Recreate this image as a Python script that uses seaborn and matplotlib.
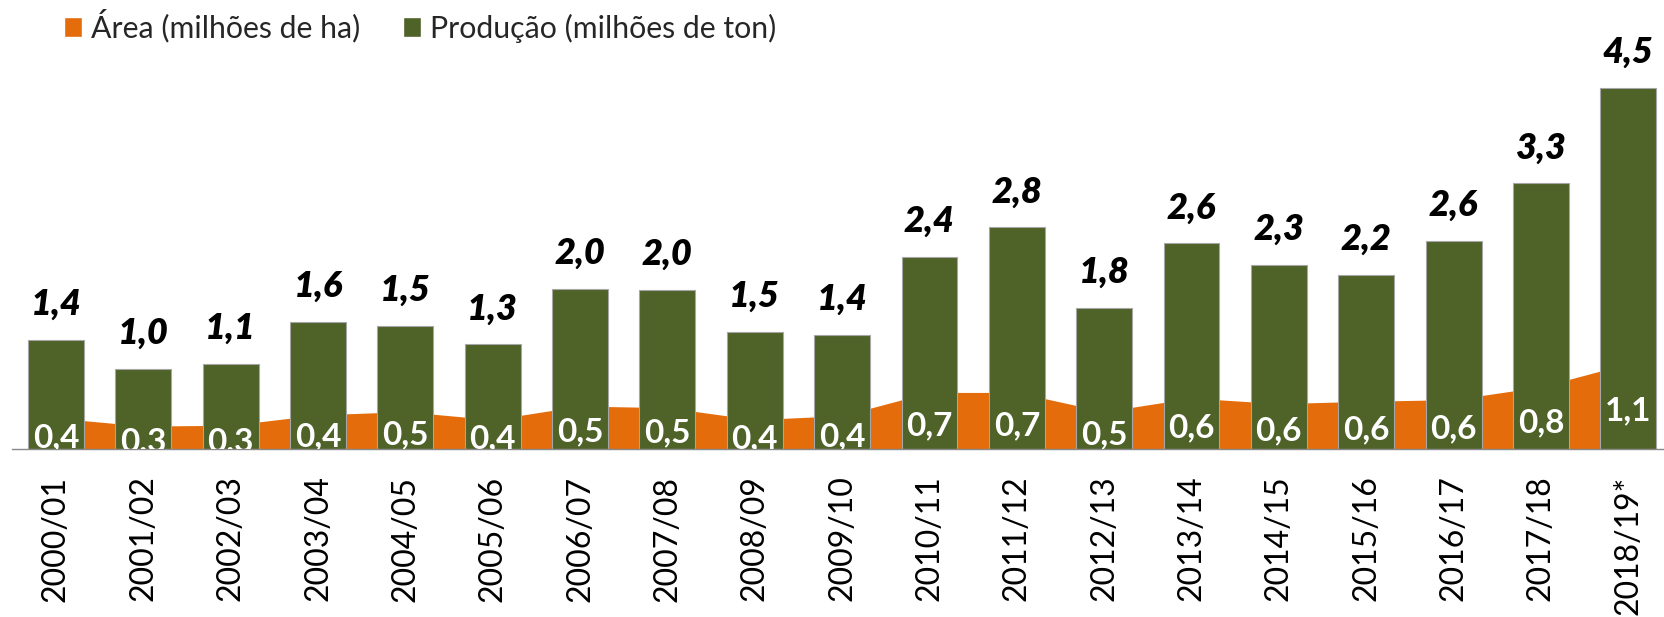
import numpy as np
import pandas as pd
import seaborn as sns
import matplotlib.pyplot as plt
from matplotlib.patches import Patch

# Safras
seasons = ['2000/01', '2001/02', '2002/03', '2003/04', '2004/05', '2005/06', '2006/07',
           '2007/08', '2008/09', '2009/10', '2010/11', '2011/12', '2012/13', '2013/14',
           '2014/15', '2015/16', '2016/17', '2017/18', '2018/19*']

# Produção (milhões de ton)
producao = [1.36, 0.99, 1.06, 1.58, 1.53, 1.30, 1.99, 1.98, 1.46, 1.42,
            2.39, 2.76, 1.76, 2.56, 2.29, 2.17, 2.59, 3.31, 4.50]

# Área (milhões de ha)
area = [0.38, 0.28, 0.29, 0.42, 0.46, 0.36, 0.53, 0.51, 0.36, 0.41,
        0.70, 0.70, 0.46, 0.63, 0.56, 0.59, 0.61, 0.77, 1.06]

legend_labels = ['Área (milhões de ha)', 'Produção (milhões de ton)']

orange = '#E46C0A'
green = '#4F6228'
grey = '#898989'

df = pd.DataFrame({'Safra': seasons, 'Producao': producao, 'Area': area})


def fmt(v):
    return f'{v:.1f}'.replace('.', ',')


sns.set_style('white')
plt.rcParams['font.family'] = ['Lato', 'DejaVu Sans']

W, H = 1664, 617
fig = plt.figure(figsize=(W / 100, H / 100), dpi=100)
base_px = 448.5
px_per_unit = 80.1
ymax = 5.0
left_px = 12.3
cat_w = 87.35
ax = fig.add_axes([left_px / W, (H - base_px) / H,
                   19 * cat_w / W, ymax * px_per_unit / H])

# area behind the bars
xpos = np.arange(len(seasons))
ax.fill_between(xpos, 0, df['Area'], color=orange, linewidth=0, zorder=1)

sns.barplot(data=df, x='Safra', y='Producao', color=green, saturation=1,
            width=0.64, edgecolor='#a6a6a6', linewidth=0.8, ax=ax, zorder=2)

ax.set_xlim(-0.5, len(seasons) - 0.5)
ax.set_ylim(0, ymax)

# data labels
off_top = 25 / px_per_unit
off_in = 14.5 / px_per_unit
for i, (p, a) in enumerate(zip(df['Producao'], df['Area'])):
    ax.text(i, p + off_top, fmt(p), ha='center', va='baseline',
            fontsize=26, fontweight='heavy', fontstyle='italic',
            color='black', zorder=4, clip_on=False)
    ax.text(i, a / 2 - off_in, fmt(a), ha='center', va='baseline',
            fontsize=24, fontweight='bold', color='white', zorder=4, clip_on=True)

# axes styling
for s in ['top', 'right', 'left']:
    ax.spines[s].set_visible(False)
ax.spines['bottom'].set_color(grey)
ax.spines['bottom'].set_linewidth(1.0)
ax.set_yticks([])
ax.set_xlabel('')
ax.set_ylabel('')
ax.set_xticks(xpos)
ax.set_xticklabels(seasons, rotation=90, fontsize=23)
ax.set_xticks(np.arange(len(seasons) + 1) - 0.5, minor=True)
ax.tick_params(axis='x', which='major', length=0, pad=19.5, labelcolor='black')
ax.tick_params(axis='x', which='minor', length=7.9, width=1.0, color=grey, direction='out')

handles = [Patch(facecolor=orange), Patch(facecolor=green)]
fig.legend(handles, legend_labels, loc='center left', ncol=2,
           bbox_to_anchor=(64 / W, 1 - 26 / H), frameon=False, fontsize=21.8,
           handlelength=0.6, handleheight=0.6, handletextpad=0.3,
           columnspacing=1.4, borderpad=0, borderaxespad=0)

fig.savefig('out.png', dpi=100)
